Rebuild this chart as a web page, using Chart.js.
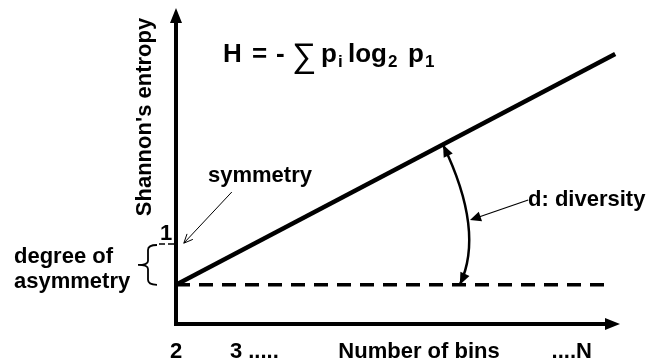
<!DOCTYPE html>
<html>
<head>
<meta charset="utf-8">
<script src="https://cdn.jsdelivr.net/npm/chart.js@4.4.1/dist/chart.umd.min.js"></script>
<style>
  html, body { margin: 0; padding: 0; background: #fff; }
  #wrap { width: 647px; height: 364px; }
</style>
</head>
<body>
<div id="wrap"><canvas id="entropyChart" width="647" height="364"></canvas></div>
<script>
// schematic: Shannon entropy vs number of bins (2 ... N)
const bins = [2, 9.32];
const entropy = [0.49, 3.375];
const baselineBins = [2, 9.28];
const baselineEntropy = [0.49, 0.49];
const symmetryLevel = 1;
const xTickValues = [2, 3, 8.8];
const xTickLabels = ["2", "3 .....", "....N"];
const yTickValues = [1];
const yTickLabels = ["1"];
// diversity arc: on the line -> bulge -> on the baseline
const arcBins = [6.45, 6.87, 6.73];
const arcEntropy = [2.24, 1.26, 0.49];

const FONT = '"Liberation Sans", Arial, sans-serif';

function arrowHead(ctx, tx, ty, fx, fy, len, half, filled) {
  const a = Math.atan2(ty - fy, tx - fx);
  const bx = tx - len * Math.cos(a), by = ty - len * Math.sin(a);
  const nx = -Math.sin(a) * half, ny = Math.cos(a) * half;
  ctx.beginPath();
  if (filled) {
    ctx.moveTo(tx, ty);
    ctx.lineTo(bx + nx, by + ny);
    ctx.lineTo(bx - nx, by - ny);
    ctx.closePath();
    ctx.fill();
  } else {
    ctx.moveTo(bx + nx, by + ny);
    ctx.lineTo(tx, ty);
    ctx.lineTo(bx - nx, by - ny);
    ctx.stroke();
  }
}

const schematic = {
  id: "schematic",
  afterDatasetsDraw(chart) {
    const { ctx, chartArea: a, scales: { x, y } } = chart;
    ctx.save();
    ctx.strokeStyle = "#000";
    ctx.fillStyle = "#000";

    // axes with arrows
    ctx.lineWidth = 4;
    ctx.beginPath();
    ctx.moveTo(a.left, a.bottom + 2);
    ctx.lineTo(a.left, a.top + 12);
    ctx.stroke();
    arrowHead(ctx, a.left, a.top, a.left, a.bottom, 15, 6, true);
    ctx.beginPath();
    ctx.moveTo(a.left - 2, a.bottom);
    ctx.lineTo(a.right - 12, a.bottom);
    ctx.stroke();
    arrowHead(ctx, a.right, a.bottom, a.left, a.bottom, 15, 6, true);

    // y tick
    ctx.font = "bold 22px " + FONT;
    ctx.textBaseline = "alphabetic";
    yTickValues.forEach((v, i) => {
      const py = y.getPixelForValue(v);
      ctx.lineWidth = 1.5;
      ctx.setLineDash([6, 3]);
      ctx.beginPath();
      ctx.moveTo(a.left - 17, py);
      ctx.lineTo(a.left, py);
      ctx.stroke();
      ctx.setLineDash([]);
      ctx.textAlign = "center";
      ctx.fillText(yTickLabels[i], a.left - 10, py - 4);
    });

    // x ticks: keep the number itself on its value
    xTickValues.forEach((v, i) => {
      const px = x.getPixelForValue(v);
      const t = xTickLabels[i];
      if (t.startsWith(".")) {
        ctx.textAlign = "right";
        ctx.fillText(t, px + ctx.measureText(t.slice(-1)).width / 2, 358);
      } else {
        ctx.textAlign = "left";
        ctx.fillText(t, px - ctx.measureText(t[0]).width / 2, 358);
      }
    });
    ctx.textAlign = "center";
    ctx.fillText("Number of bins", 419, 358);

    // y title
    ctx.save();
    ctx.translate(145, 117);
    ctx.rotate(-Math.PI / 2);
    ctx.textBaseline = "middle";
    ctx.fillText("Shannon's entropy", 0, 0);
    ctx.restore();

    // annotations
    ctx.textAlign = "left";
    ctx.fillText("symmetry", 208, 182);
    ctx.fillText("degree of", 14, 263);
    ctx.fillText("asymmetry", 14, 288);
    ctx.fillText("d: diversity", 528, 206);

    // symmetry pointer
    ctx.lineWidth = 1;
    const sx0 = x.getPixelForValue(2.93), sy0 = y.getPixelForValue(1.65);
    const sx1 = x.getPixelForValue(2.13), sy1 = y.getPixelForValue(symmetryLevel + 0.01);
    ctx.beginPath();
    ctx.moveTo(sx0, sy0);
    ctx.lineTo(sx1, sy1);
    ctx.stroke();
    arrowHead(ctx, sx1, sy1, sx0, sy0, 9, 4, false);

    // brace for degree of asymmetry
    const bx = a.left - 28;
    const bt = y.getPixelForValue(symmetryLevel) + 1;
    const bb = y.getPixelForValue(entropy[0]);
    const bm = (bt + bb) / 2;
    ctx.lineWidth = 1.8;
    ctx.beginPath();
    ctx.moveTo(bx + 9, bt);
    ctx.quadraticCurveTo(bx, bt, bx, bt + 5);
    ctx.lineTo(bx, bm - 4);
    ctx.quadraticCurveTo(bx, bm, bx - 10, bm);
    ctx.moveTo(bx - 10, bm);
    ctx.quadraticCurveTo(bx, bm, bx, bm + 4);
    ctx.lineTo(bx, bb - 5);
    ctx.quadraticCurveTo(bx, bb, bx + 9, bb);
    ctx.stroke();

    // diversity arc with arrows on both ends
    const p0 = [x.getPixelForValue(arcBins[0]), y.getPixelForValue(arcEntropy[0])];
    const pm = [x.getPixelForValue(arcBins[1]), y.getPixelForValue(arcEntropy[1])];
    const p2 = [x.getPixelForValue(arcBins[2]), y.getPixelForValue(arcEntropy[2])];
    const c = [2 * pm[0] - (p0[0] + p2[0]) / 2, 2 * pm[1] - (p0[1] + p2[1]) / 2];
    ctx.lineWidth = 2.5;
    ctx.beginPath();
    ctx.moveTo(p0[0], p0[1]);
    ctx.quadraticCurveTo(c[0], c[1], p2[0], p2[1]);
    ctx.stroke();
    arrowHead(ctx, p0[0], p0[1], c[0], c[1], 12, 5, true);
    arrowHead(ctx, p2[0], p2[1], c[0], c[1], 12, 5, true);

    // diversity pointer
    ctx.lineWidth = 1.2;
    const dx0 = x.getPixelForValue(7.87), dy0 = y.getPixelForValue(1.55);
    const dx1 = x.getPixelForValue(6.9), dy1 = y.getPixelForValue(1.3);
    ctx.beginPath();
    ctx.moveTo(dx0, dy0);
    ctx.lineTo(dx1 + 6, dy1 - 2);
    ctx.stroke();
    arrowHead(ctx, dx1, dy1, dx0, dy0, 11, 5, true);

    // formula
    const big = "bold 26px " + FONT, sub = "bold 17px " + FONT;
    const parts = [
      ["H", big, 223, 62], ["=", big, 252, 62], ["-", big, 276, 62],
      ["\u2211", "34px " + FONT, 292, 67],
      ["p", big, 321, 62], ["i", sub, 338, 67],
      ["log", big, 348, 62], ["2", sub, 388, 67],
      ["p", big, 408, 62], ["1", sub, 425, 67]
    ];
    parts.forEach(([t, f, px, py]) => {
      ctx.font = f;
      ctx.fillText(t, px, py);
    });

    ctx.restore();
  }
};

new Chart(document.getElementById("entropyChart"), {
  type: "line",
  data: {
    datasets: [
      {
        label: "entropy",
        data: bins.map((b, i) => ({ x: b, y: entropy[i] })),
        borderColor: "#000",
        borderWidth: 4.5,
        pointRadius: 0,
      },
      {
        label: "baseline",
        data: baselineBins.map((b, i) => ({ x: b, y: baselineEntropy[i] })),
        borderColor: "#000",
        borderWidth: 3.5,
        borderDash: [14, 9],
        pointRadius: 0,
      },
    ],
  },
  options: {
    responsive: false,
    animation: false,
    events: [],
    layout: { padding: { left: 176, right: 27, top: 8, bottom: 40 } },
    scales: {
      x: { type: "linear", min: 2, max: 9.4, display: false },
      y: { min: 0, max: 3.95, display: false },
    },
    plugins: {
      legend: { display: false },
      tooltip: { enabled: false },
    },
  },
  plugins: [schematic],
});
</script>
</body>
</html>
